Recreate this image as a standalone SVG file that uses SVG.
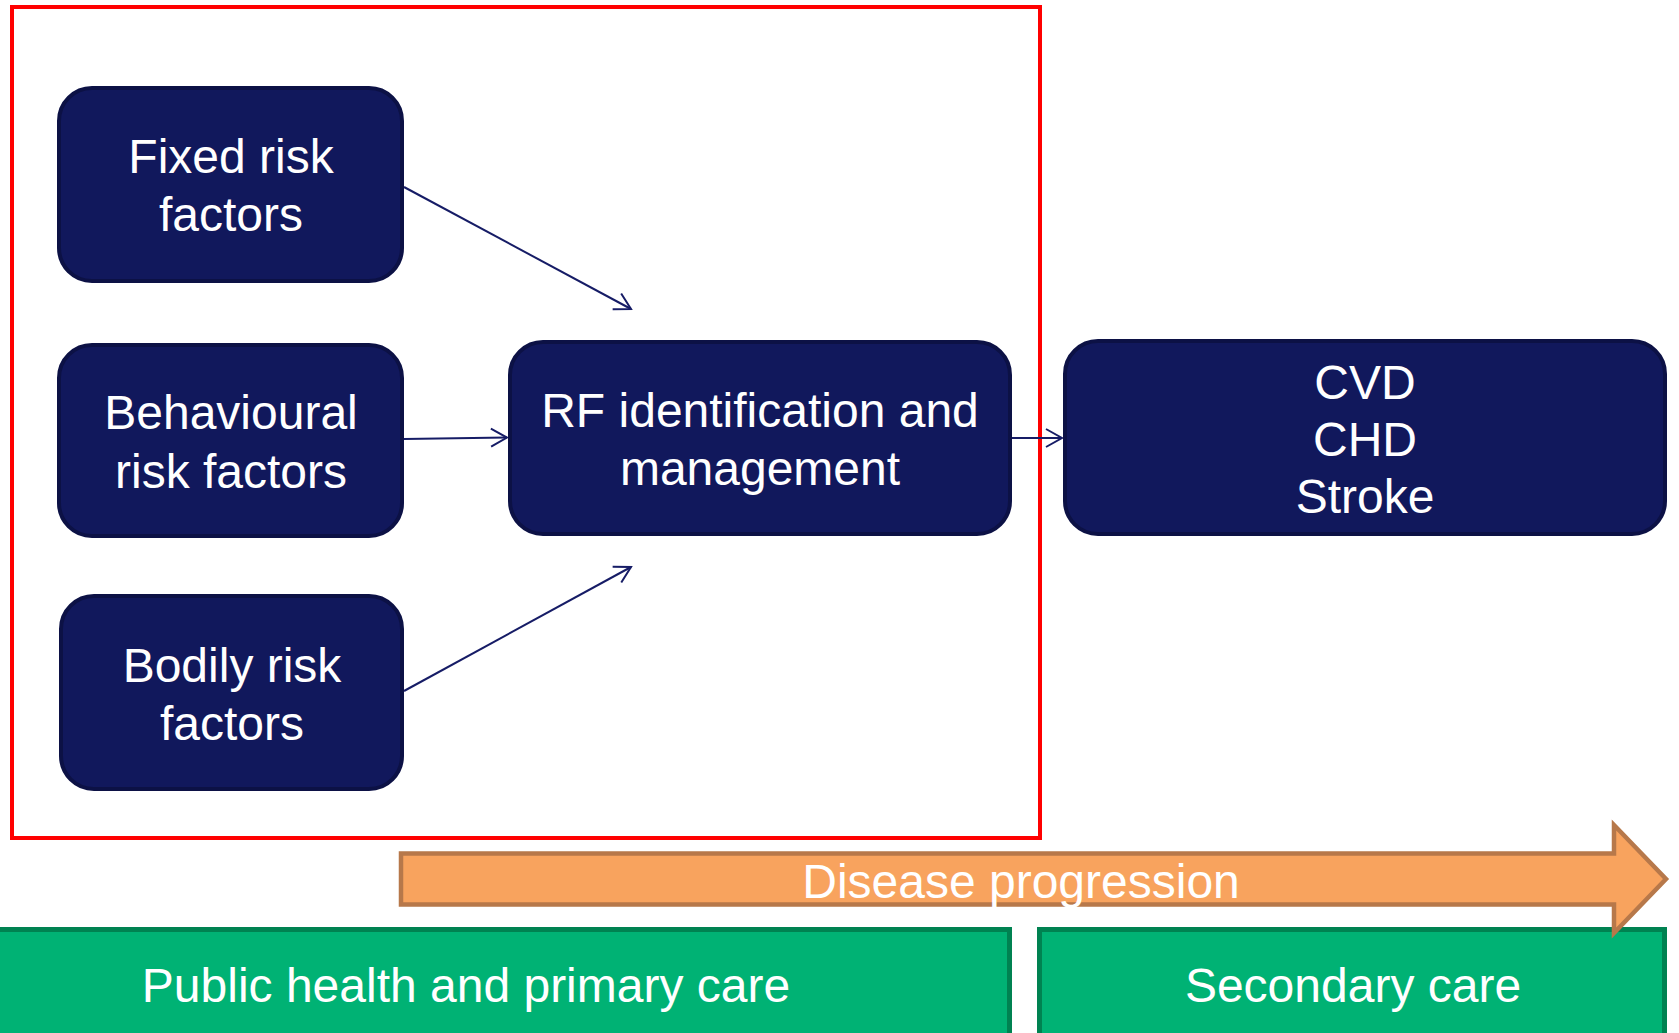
<svg xmlns="http://www.w3.org/2000/svg" width="1679" height="1033" viewBox="0 0 1679 1033">
  <defs>
    <style>
      .node { fill: #11185C; stroke: #0C1145; stroke-width: 4; }
      .label { fill: #FFFFFF; font-family: "Liberation Sans", Arial, sans-serif; font-size: 48px; text-anchor: middle; }
      .link { fill: none; stroke: #161C66; stroke-width: 2; }
      .band { fill: #00B274; stroke: #008251; stroke-width: 5; }
    </style>
    <marker id="open-arrow" viewBox="-18 -11 20 22" markerWidth="20" markerHeight="22" refX="0" refY="0" orient="auto" markerUnits="userSpaceOnUse">
      <path d="M-16,-9 L0,0 L-16,9" fill="none" stroke="#161C66" stroke-width="2"/>
    </marker>
  </defs>

  <rect width="1679" height="1033" fill="#FFFFFF"/>

  <!-- primary-care scope frame -->
  <rect id="scope-frame" x="12" y="7" width="1028" height="831" fill="none" stroke="#FF0000" stroke-width="4"/>

  <!-- care setting bands -->
  <g id="band-primary">
    <rect class="band" x="-10" y="929.5" width="1019.5" height="120"/>
    <text class="label" x="466" y="1002">Public health and primary care</text>
  </g>
  <g id="band-secondary">
    <rect class="band" x="1039.5" y="929.5" width="625" height="120"/>
    <text class="label" x="1353" y="1002">Secondary care</text>
  </g>

  <!-- disease progression arrow -->
  <g id="progression">
    <path d="M401,853.5 H1614 V825 L1666,879 L1614,933 V904.5 H401 Z" fill="#F8A35E" stroke="#B7784A" stroke-width="4.5" stroke-linejoin="miter"/>
    <text class="label" x="1021" y="898">Disease progression</text>
  </g>

  <!-- connectors -->
  <g id="connectors">
    <line class="link" x1="404" y1="187" x2="631" y2="309" marker-end="url(#open-arrow)"/>
    <line class="link" x1="404" y1="439" x2="507" y2="437.5" marker-end="url(#open-arrow)"/>
    <line class="link" x1="404" y1="691" x2="631" y2="567" marker-end="url(#open-arrow)"/>
    <line class="link" x1="1012" y1="438" x2="1062" y2="438" marker-end="url(#open-arrow)"/>
  </g>

  <g id="fixed-risk">
    <rect class="node" x="59" y="88" width="343" height="193" rx="33" ry="33"/>
    <text class="label" x="231" y="173">Fixed risk</text>
    <text class="label" x="231" y="231">factors</text>
  </g>

  <g id="behavioural-risk">
    <rect class="node" x="59" y="345" width="343" height="191" rx="33" ry="33"/>
    <text class="label" x="231" y="429">Behavioural</text>
    <text class="label" x="231" y="488">risk factors</text>
  </g>

  <g id="bodily-risk">
    <rect class="node" x="61" y="596" width="341" height="193" rx="33" ry="33"/>
    <text class="label" x="232" y="682">Bodily risk</text>
    <text class="label" x="232" y="740">factors</text>
  </g>

  <g id="rf-management">
    <rect class="node" x="510" y="342" width="500" height="192" rx="33" ry="33"/>
    <text class="label" x="760" y="427">RF identification and</text>
    <text class="label" x="760" y="485">management</text>
  </g>

  <g id="outcomes">
    <rect class="node" x="1065" y="341" width="600" height="193" rx="33" ry="33"/>
    <text class="label" x="1365" y="399">CVD</text>
    <text class="label" x="1365" y="456">CHD</text>
    <text class="label" x="1365" y="513">Stroke</text>
  </g>
</svg>
